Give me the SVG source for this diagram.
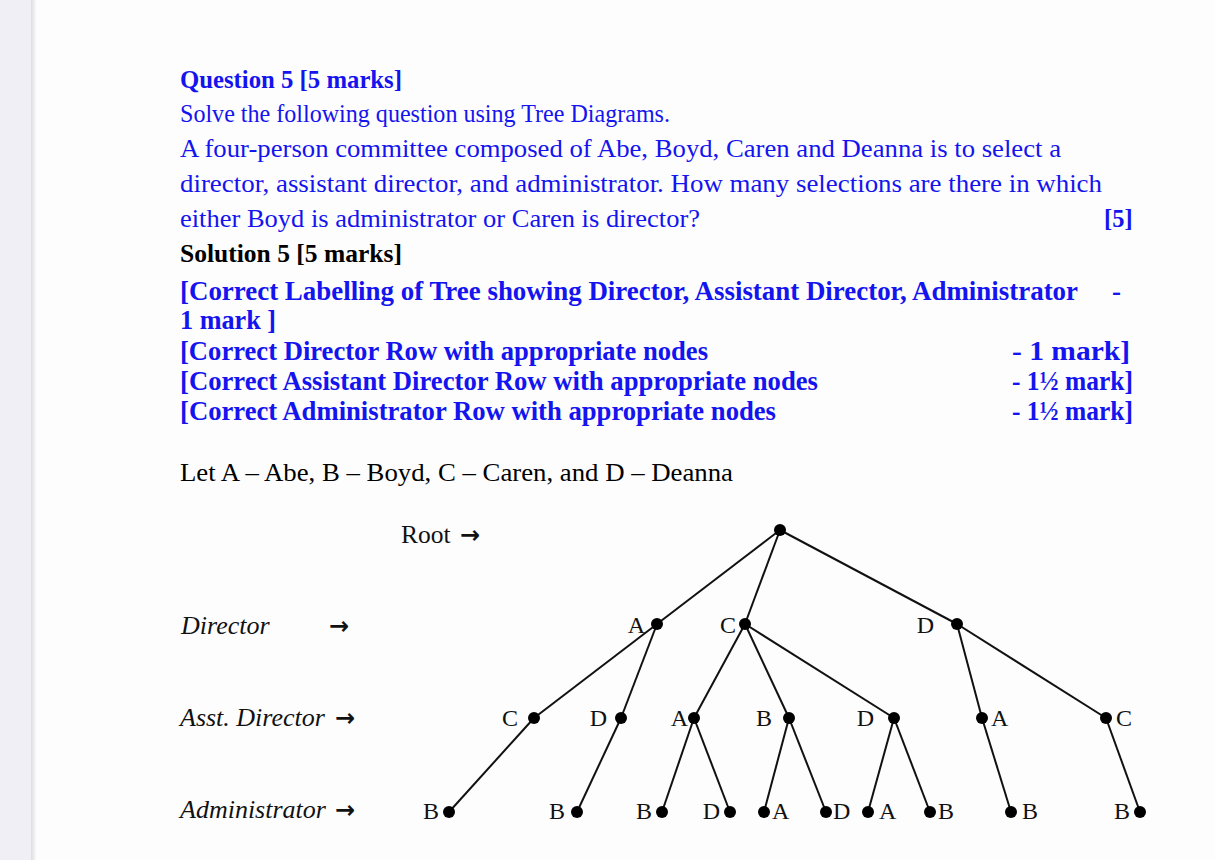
<svg xmlns="http://www.w3.org/2000/svg" width="1215" height="860" viewBox="0 0 1215 860">
<defs>
<linearGradient id="shade" x1="0" y1="0" x2="1" y2="0">
<stop offset="0" stop-color="#dcdce2"/>
<stop offset="1" stop-color="#ffffff"/>
</linearGradient>
<style>
.t{font-family:"Liberation Serif","Times New Roman",serif;font-size:24.5px;fill:#000}
.b{fill:#1414ee}
.bd{font-weight:bold}
.c{font-family:"Liberation Serif","Times New Roman",serif;font-size:27px;font-weight:bold;fill:#1414ee}
.lb{font-family:"Liberation Serif","Times New Roman",serif;font-size:24px;fill:#111}
.lb.i{font-style:italic;font-size:26px}
.ar{font-family:"DejaVu Sans",sans-serif;font-size:24px;font-weight:bold;fill:#111}
.e line{stroke:#111;stroke-width:2}
.n circle{fill:#000}
</style>
</defs>
<rect x="0" y="0" width="1215" height="860" fill="#fdfdfd"/>
<rect x="0" y="0" width="31" height="860" fill="#efeff5"/>
<rect x="31" y="0" width="6" height="860" fill="url(#shade)"/>

<g id="question">
<text class="t b bd" x="180" y="88" textLength="222" lengthAdjust="spacingAndGlyphs">Question 5 [5 marks]</text>
<text class="t b" x="180" y="122" textLength="490" lengthAdjust="spacingAndGlyphs">Solve the following question using Tree Diagrams.</text>
<text class="t b" x="180" y="157" textLength="881" lengthAdjust="spacingAndGlyphs">A four-person committee composed of Abe, Boyd, Caren and Deanna is to select a</text>
<text class="t b" x="180" y="192" textLength="922" lengthAdjust="spacingAndGlyphs">director, assistant director, and administrator.  How many selections are there in which</text>
<text class="t b" x="180" y="227" textLength="520" lengthAdjust="spacingAndGlyphs">either Boyd is administrator or Caren is director?</text>
<text class="t b bd" x="1104" y="227">[5]</text>
<text class="t bd" x="180" y="262" textLength="222" lengthAdjust="spacingAndGlyphs">Solution 5 [5 marks]</text>
</g>

<g id="marking">
<text class="c" x="180" y="300" textLength="898" lengthAdjust="spacingAndGlyphs">[Correct Labelling of Tree showing Director, Assistant Director, Administrator</text>
<text class="c" x="1112" y="300">-</text>
<text class="c" x="180" y="329" textLength="96" lengthAdjust="spacingAndGlyphs">1 mark ]</text>
<text class="c" x="180" y="360" textLength="528" lengthAdjust="spacingAndGlyphs">[Correct Director Row with appropriate nodes</text>
<text class="c" x="1012" y="360" textLength="118" lengthAdjust="spacingAndGlyphs">-  1 mark]</text>
<text class="c" x="180" y="390" textLength="638" lengthAdjust="spacingAndGlyphs">[Correct Assistant Director Row with appropriate nodes</text>
<text class="c" x="1012" y="390" textLength="121" lengthAdjust="spacingAndGlyphs">- 1½ mark]</text>
<text class="c" x="180" y="420" textLength="596" lengthAdjust="spacingAndGlyphs">[Correct Administrator Row with appropriate nodes</text>
<text class="c" x="1012" y="420" textLength="121" lengthAdjust="spacingAndGlyphs">- 1½ mark]</text>
</g>

<text class="t" x="180" y="481" textLength="553" lengthAdjust="spacingAndGlyphs">Let A – Abe, B – Boyd, C – Caren, and D – Deanna</text>

<g id="row-labels">
<text class="lb" x="401" y="543" style="font-size:25.5px">Root</text>
<text class="ar" x="460" y="543">→</text>
<text class="lb i" x="181" y="634">Director</text>
<text class="ar" x="329" y="634">→</text>
<text class="lb i" x="180" y="726">Asst. Director</text>
<text class="ar" x="335" y="726">→</text>
<text class="lb i" x="180" y="818">Administrator</text>
<text class="ar" x="335" y="818">→</text>
</g>

<g id="connectors" class="e">
<line x1="780" y1="530" x2="657" y2="624"/>
<line x1="780" y1="530" x2="745" y2="624"/>
<line x1="780" y1="530" x2="957" y2="624"/>
<line x1="657" y1="624" x2="534" y2="718"/>
<line x1="657" y1="624" x2="621" y2="718"/>
<line x1="745" y1="624" x2="694" y2="718"/>
<line x1="745" y1="624" x2="789" y2="718"/>
<line x1="745" y1="624" x2="894" y2="718"/>
<line x1="957" y1="624" x2="982" y2="718"/>
<line x1="957" y1="624" x2="1106" y2="718"/>
<line x1="534" y1="718" x2="449" y2="812"/>
<line x1="621" y1="718" x2="577" y2="812"/>
<line x1="694" y1="718" x2="662" y2="812"/>
<line x1="694" y1="718" x2="730" y2="812"/>
<line x1="789" y1="718" x2="764" y2="812"/>
<line x1="789" y1="718" x2="826" y2="812"/>
<line x1="894" y1="718" x2="868" y2="812"/>
<line x1="894" y1="718" x2="930" y2="812"/>
<line x1="982" y1="718" x2="1011" y2="812"/>
<line x1="1106" y1="718" x2="1140" y2="812"/>
</g>

<g id="node-root" class="n"><circle cx="780" cy="530" r="6"/></g>
<g id="node-dA" class="n"><circle cx="657" cy="624" r="6"/><text class="lb" x="645" y="633" text-anchor="end">A</text></g>
<g id="node-dC" class="n"><circle cx="745" cy="624" r="6"/><text class="lb" x="736" y="633" text-anchor="end">C</text></g>
<g id="node-dD" class="n"><circle cx="957" cy="624" r="6"/><text class="lb" x="934" y="633" text-anchor="end">D</text></g>

<g id="node-aC" class="n"><circle cx="534" cy="718" r="6"/><text class="lb" x="518" y="726" text-anchor="end">C</text></g>
<g id="node-aD1" class="n"><circle cx="621" cy="718" r="6"/><text class="lb" x="607" y="726" text-anchor="end">D</text></g>
<g id="node-aA1" class="n"><circle cx="694" cy="718" r="6"/><text class="lb" x="688" y="726" text-anchor="end">A</text></g>
<g id="node-aB" class="n"><circle cx="789" cy="718" r="6"/><text class="lb" x="772" y="726" text-anchor="end">B</text></g>
<g id="node-aD2" class="n"><circle cx="894" cy="718" r="6"/><text class="lb" x="874" y="726" text-anchor="end">D</text></g>
<g id="node-aA2" class="n"><circle cx="982" cy="718" r="6"/><text class="lb" x="991" y="726">A</text></g>
<g id="node-aC2" class="n"><circle cx="1106" cy="718" r="6"/><text class="lb" x="1116" y="726">C</text></g>

<g id="node-m1" class="n"><circle cx="449" cy="812" r="6"/><text class="lb" x="439" y="819" text-anchor="end">B</text></g>
<g id="node-m2" class="n"><circle cx="577" cy="812" r="6"/><text class="lb" x="565" y="819" text-anchor="end">B</text></g>
<g id="node-m3" class="n"><circle cx="662" cy="812" r="6"/><text class="lb" x="652" y="819" text-anchor="end">B</text></g>
<g id="node-m4" class="n"><circle cx="730" cy="812" r="6"/><text class="lb" x="720" y="819" text-anchor="end">D</text></g>
<g id="node-m5" class="n"><circle cx="764" cy="812" r="6"/><text class="lb" x="772" y="819">A</text></g>
<g id="node-m6" class="n"><circle cx="826" cy="812" r="6"/><text class="lb" x="833" y="819">D</text></g>
<g id="node-m7" class="n"><circle cx="868" cy="812" r="6"/><text class="lb" x="879" y="819">A</text></g>
<g id="node-m8" class="n"><circle cx="930" cy="812" r="6"/><text class="lb" x="938" y="819">B</text></g>
<g id="node-m9" class="n"><circle cx="1011" cy="812" r="6"/><text class="lb" x="1022" y="819">B</text></g>
<g id="node-m10" class="n"><circle cx="1140" cy="812" r="6"/><text class="lb" x="1130" y="819" text-anchor="end">B</text></g>
</svg>
